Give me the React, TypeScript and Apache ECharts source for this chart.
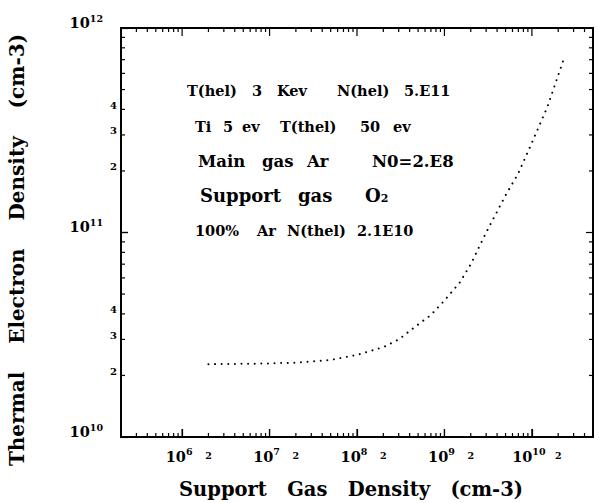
import React, { useEffect, useRef } from "react";
import * as echarts from "echarts";

// Curve (support gas density, thermal electron density)
const gasDensity = [2e6, 5e6, 1e7, 2e7, 5e7, 1e8, 2e8, 3e8, 5e8, 7e8, 1e9, 1.5e9, 2e9, 3e9, 5e9, 7e9, 1e10, 1.5e10, 2.3e10];
const electronDensity = [2.27e10, 2.28e10, 2.29e10, 2.31e10, 2.38e10, 2.52e10, 2.75e10, 3.0e10, 3.55e10, 3.95e10, 4.65e10, 5.7e10, 7.0e10, 1.0e11, 1.52e11, 1.95e11, 2.75e11, 4.1e11, 7.0e11];

const xRange = [2e5, 5e10];
const yRange = [1e10, 1e12];
const xMinorLabelValues = [2e6, 2e7, 2e8, 2e9, 2e10];
const yMinorLabelValues = [2e10, 3e10, 4e10, 2e11, 3e11, 4e11];
const tickMultipliers = [1, 2, 3, 4, 5, 6, 7, 8, 9];

const xTitle = "Support   Gas   Density   (cm-3)";
const yTitle = "Thermal    Electron    Density    (cm-3)";

// annotation lines: words
const line1 = ["T(hel)", "3", "Kev", "N(hel)", "5.E11"];
const line2 = ["Ti", "5", "ev", "T(thel)", "50", "ev"];
const line3 = ["Main", "gas", "Ar", "N0=2.E8"];
const line4 = ["Support", "gas", "O"];
const line5 = ["100%", "Ar", "N(thel)", "2.1E10"];

const FONT = "'DejaVu Serif', 'Liberation Serif', serif";

function tickSet(lo: number, hi: number): { v: number; major: number }[] {
  const out: { v: number; major: number }[] = [];
  for (let e = Math.floor(Math.log10(lo)); e <= Math.ceil(Math.log10(hi)); e++) {
    for (const m of tickMultipliers) {
      const v = m * Math.pow(10, e);
      if (v >= lo * 0.9999 && v <= hi * 1.0001) out.push({ v, major: m === 1 ? 1 : 0 });
    }
  }
  return out;
}

function split(v: number) {
  const e = Math.floor(Math.log10(v) + 1e-9);
  const m = Math.round(v / Math.pow(10, e));
  return { e, m };
}

function wordLine(words: string[], xs: number[], font: string, extra = "") {
  const rich: any = {};
  let text = "";
  words.forEach((w, i) => {
    const key = "w" + i;
    rich[key] = { font, fill: "#000" };
    if (i < words.length - 1) rich[key].width = xs[i + 1] - xs[i];
    text += `{${key}|${w}${i < words.length - 1 ? " " : ""}}`;
  });
  return { text: text + extra, rich };
}

export default function App() {
  const ref = useRef<HTMLDivElement>(null);
  useEffect(() => {
    if (!ref.current) return;
    const chart = echarts.init(ref.current, undefined, { renderer: "svg" });
    const xTicks = tickSet(xRange[0], xRange[1]);
    const yTicks = tickSet(yRange[0], yRange[1]);
    const richX = {
      b: { fontFamily: FONT, fontWeight: "bold", fontSize: 14.5, color: "#000", verticalAlign: "bottom" },
      s: { fontFamily: FONT, fontWeight: "bold", fontSize: 9.5, color: "#000", verticalAlign: "top", padding: [0, 0, 8, 0] },
      sp: { width: 6 },
    };
    const richY = {
      b: { fontFamily: FONT, fontWeight: "bold", fontSize: 14.5, color: "#000", padding: [0, 0, 12, 0] },
      s: { fontFamily: FONT, fontWeight: "bold", fontSize: 9.5, color: "#000", padding: [0, 0, 20, 0] },
      sp: { width: 14 },
    };
    const f15 = `bold 14.5px ${FONT}`;
    const f17 = `bold 16.5px ${FONT}`;
    const f18 = `bold 18px ${FONT}`;
    const l1 = wordLine(line1, [187, 252, 277, 337, 404], f15);
    const l2 = wordLine(line2, [195, 223, 242, 280, 360, 393], f15);
    const l3 = wordLine(line3, [198, 262, 307, 372], f17);
    const l4 = wordLine(line4, [200, 298, 365], f18, "{sub|2}");
    l4.rich.sub = { font: `bold 11px ${FONT}`, fill: "#000", padding: [7, 0, 0, 0] };
    const l5 = wordLine(line5, [195, 257, 287, 357], f15);

    const xTickSeries = (atTop: boolean) => ({
      type: "custom",
      clip: false,
      silent: true,
      encode: { x: 0, y: 1 },
      data: xTicks.map((t) => [t.v, 2e10, t.major]),
      renderItem: (_p: any, api: any) => {
        const v = api.value(0);
        const len = api.value(2) ? 8 : 4;
        const p = api.coord([v, atTop ? yRange[1] : yRange[0]]);
        const y2 = atTop ? p[1] + len : p[1] - len;
        return { type: "line", shape: { x1: p[0], y1: p[1], x2: p[0], y2 }, style: { stroke: "#000", lineWidth: 1.2 } };
      },
    });
    const yTickSeries = (atRight: boolean) => ({
      type: "custom",
      clip: false,
      silent: true,
      encode: { x: 0, y: 1 },
      data: yTicks.map((t) => [2e6, t.v, t.major]),
      renderItem: (_p: any, api: any) => {
        const v = api.value(1);
        const len = api.value(2) ? 7 : 4;
        const p = api.coord([atRight ? xRange[1] : xRange[0], v]);
        const x2 = atRight ? p[0] - len : p[0] + len;
        return { type: "line", shape: { x1: p[0], y1: p[1], x2, y2: p[1] }, style: { stroke: "#000", lineWidth: 1.2 } };
      },
    });
    const xMinorLabels = {
      type: "custom",
      clip: false,
      silent: true,
      encode: { x: 0, y: 1 },
      data: xMinorLabelValues.map((v) => [v, 2e10]),
      renderItem: (_p: any, api: any) => {
        const v = api.value(0);
        const p = api.coord([v, yRange[0]]);
        return {
          type: "text",
          x: p[0],
          y: p[1] + 18,
          style: { text: String(split(v).m), font: `bold 9.5px ${FONT}`, fill: "#000", align: "center", verticalAlign: "middle" },
        };
      },
    };
    const yMinorLabels = {
      type: "custom",
      clip: false,
      silent: true,
      encode: { x: 0, y: 1 },
      data: yMinorLabelValues.map((v) => [2e6, v]),
      renderItem: (_p: any, api: any) => {
        const v = api.value(1);
        const p = api.coord([xRange[0], v]);
        return {
          type: "text",
          x: p[0] - 4,
          y: p[1] - 4,
          style: { text: String(split(v).m), font: `bold 10px ${FONT}`, fill: "#000", align: "right", verticalAlign: "middle" },
        };
      },
    };

    const option: any = {
      animation: false,
      backgroundColor: "#fff",
      grid: { left: 121, right: 6, top: 28, bottom: 66, show: true, borderColor: "#000", borderWidth: 2, backgroundColor: "transparent" },
      xAxis: {
        type: "log",
        min: xRange[0],
        max: xRange[1],
        splitLine: { show: false },
        axisLine: { show: true, lineStyle: { color: "#000", width: 2 } },
        axisTick: { show: true, inside: true, length: 8, lineStyle: { color: "#000", width: 1.2 } },
        axisLabel: {
          show: true,
          showMinLabel: false,
          showMaxLabel: false,
          margin: 9,
          formatter: (v: number) => {
            const { e } = split(v);
            return `{b|10}{s|${e}}{sp|}`;
          },
          rich: richX,
        },
      },
      yAxis: {
        type: "log",
        min: yRange[0],
        max: yRange[1],
        splitLine: { show: false },
        axisLine: { show: true, lineStyle: { color: "#000", width: 2 } },
        axisTick: { show: true, inside: true, length: 7, lineStyle: { color: "#000", width: 1.2 } },
        axisLabel: {
          show: true,
          margin: 4,
          formatter: (v: number) => {
            const { e } = split(v);
            return `{b|10}{s|${e}}{sp|}`;
          },
          rich: richY,
        },
      },
      series: [
        {
          type: "line",
          data: gasDensity.map((x, i) => [x, electronDensity[i]]),
          showSymbol: false,
          smooth: false,
          lineStyle: { color: "#000", width: 2, type: [0.01, 6.6], cap: "round" },
        },
        xTickSeries(false),
        xTickSeries(true),
        yTickSeries(false),
        yTickSeries(true),
        xMinorLabels,
        yMinorLabels,
      ],
      graphic: [
        {
          type: "text",
          x: 351,
          y: 489,
          style: { text: xTitle, font: `bold 19.5px ${FONT}`, fill: "#000", align: "center", verticalAlign: "middle" },
        },
        {
          type: "text",
          x: 17,
          y: 250,
          rotation: Math.PI / 2,
          style: { text: yTitle, font: `bold 20px ${FONT}`, fill: "#000", verticalAlign: "middle", align: "center" },
        },
        { type: "text", x: 187, y: 90, style: { ...l1, verticalAlign: "middle" } },
        { type: "text", x: 195, y: 126, style: { ...l2, verticalAlign: "middle" } },
        { type: "text", x: 198, y: 161, style: { ...l3, verticalAlign: "middle" } },
        { type: "text", x: 200, y: 195, style: { ...l4, verticalAlign: "middle" } },
        { type: "text", x: 195, y: 230, style: { ...l5, verticalAlign: "middle" } },
      ],
    };
    chart.setOption(option);
    return () => chart.dispose();
  }, []);
  return <div ref={ref} style={{ position: "absolute", left: 0, top: 0, width: 599, height: 503, background: "#fff" }} />;
}
